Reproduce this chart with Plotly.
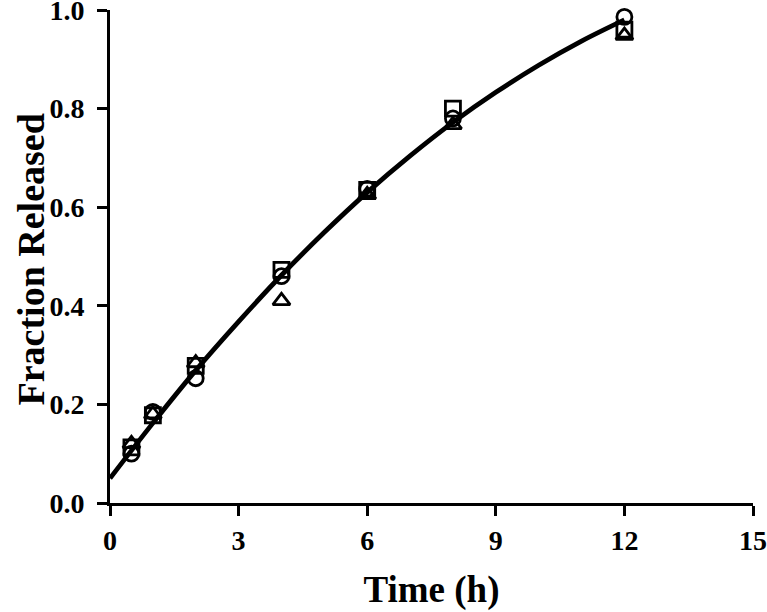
import plotly.graph_objects as go

time_h = [0.5, 1, 2, 4, 6, 8, 12]
circle_vals = [0.100, 0.185, 0.253, 0.460, 0.637, 0.780, 0.986]
square_vals = [0.113, 0.178, 0.278, 0.473, 0.635, 0.800, 0.960]
triangle_vals = [0.120, 0.180, 0.284, 0.410, 0.625, 0.767, 0.948]

curve_t = [0, 1, 2, 3, 4, 5, 6, 7, 8, 9, 10, 11, 12]
curve_y = [0.050, 0.162, 0.269, 0.368, 0.462, 0.549, 0.630, 0.704, 0.772, 0.833, 0.888, 0.937, 0.980]

x_ticks = [0, 3, 6, 9, 12, 15]
y_ticks = [0.0, 0.2, 0.4, 0.6, 0.8, 1.0]

fig = go.Figure()
for vals, sym in [(circle_vals, "circle-open"), (square_vals, "square-open"), (triangle_vals, "triangle-up-open")]:
    fig.add_trace(go.Scatter(x=time_h, y=vals, mode="markers",
                             marker=dict(symbol=sym, size=15, color="black", line=dict(width=2.8, color="black")),
                             showlegend=False, cliponaxis=False))
fig.add_trace(go.Scatter(x=curve_t, y=curve_y, mode="lines", line=dict(color="black", width=4.8, shape="spline"),
                         showlegend=False))

font_family = "Liberation Serif, Times New Roman, serif"
fig.update_layout(
    width=767, height=612,
    margin=dict(l=110, r=14, t=10, b=109),
    plot_bgcolor="white", paper_bgcolor="white",
    font=dict(family=font_family, color="black"),
    xaxis=dict(range=[0, 15], tickvals=x_ticks, ticktext=[str(v) for v in x_ticks],
               showgrid=False, zeroline=False, showline=True, linecolor="black", linewidth=3,
               ticks="outside", ticklen=10, tickwidth=3, tickcolor="black",
               ticklabeloverflow="allow", automargin=False,
               tickfont=dict(size=28, family=font_family, weight="bold"),
               title=dict(text="<b>Time (h)</b>", font=dict(size=37, family=font_family), standoff=22)),
    yaxis=dict(range=[0, 1], tickvals=y_ticks, ticktext=[f"{v:.1f}" for v in y_ticks],
               showgrid=False, zeroline=False, showline=True, linecolor="black", linewidth=3,
               ticks="outside", ticklen=10, tickwidth=3, tickcolor="black",
               ticklabeloverflow="allow", automargin=False, ticklabelstandoff=7,
               tickfont=dict(size=28, family=font_family, weight="bold")),
    annotations=[dict(text="<b>Fraction Released</b>", xref="paper", yref="paper", x=0, y=0.5,
                      xanchor="center", yanchor="middle", xshift=-80, yshift=-3, textangle=-90,
                      showarrow=False, font=dict(size=38, family=font_family, color="black"))],
)
fig.write_html("out.html", config={"displayModeBar": False},
               post_script="document.body.style.margin='0';")
